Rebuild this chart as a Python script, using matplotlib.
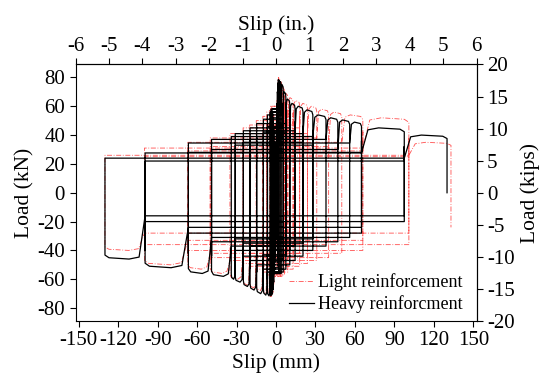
import numpy as np
import matplotlib
matplotlib.use('Agg')
import matplotlib.pyplot as plt

plt.rcParams['font.family'] = ['Liberation Serif', 'DejaVu Serif']
plt.rcParams['axes.unicode_minus'] = False

# cycle data (mm, kN), negative half first, then positive half
# heavy reinforcement
heavy_neg_amp = [-0.5, -1.0, -1.5, -2.0, -2.5, -3.0, -3.8, -4.6, -6.5, -6.5,
                 -9.6, -9.6, -14.7, -14.7, -19.7, -19.7, -24.8, -24.8, -31.0, -31.0,
                 -34.0, -49.0, -49.0, -66.6, -66.6, -99.5, -99.5, -130.0]
heavy_neg_peak = [-30, -45, -55, -62, -67, -70, -71, -71.5, -71.5, -60,
                  -71, -58, -70, -55, -67.5, -52, -65, -49, -62, -46,
                  -60, -58, -44, -56, -42, -52, -40, -46]
heavy_neg_ret = [25, 35, 45, 52, 56, 58, 58, 56, 54, 46,
                 51, 42, 48, 39, 45, 37, 43, 35, 41, 33,
                 39, 37, 30, 34.5, 28, 27.6, 22, 24]
heavy_pos_amp = [0.3, 0.6, 0.9, 1.2, 1.6, 2.0, 3.0, 4.0, 5.5, 5.5,
                 7.5, 7.5, 10.5, 10.5, 14.5, 14.5, 20.5, 20.5, 28.0, 28.0,
                 38.0, 47.0, 56.0, 65.0, 65.0, 97.5, 97.5, 130.0]
heavy_pos_peak = [35, 50, 62, 70, 76, 78.5, 78, 77, 75, 62,
                  70, 56, 65, 52, 62, 49, 60, 46, 57.5, 43,
                  54, 52, 50.5, 49, 36, 45, 32, 40]
heavy_pos_ret = [-20, -30, -40, -48, -52, -55, -56, -56, -55, -46,
                 -53, -43, -50, -40, -47, -37, -44, -35, -40, -32,
                 -37, -34, -31, -28, -24, -20, -16, 0]

# light reinforcement
light_neg_amp = [-0.5, -1.0, -1.5, -2.0, -2.6, -3.2, -4.0, -5.0, -7.0, -7.0,
                 -10.0, -10.0, -15.0, -15.0, -20.0, -20.0, -25.0, -25.0, -35.0, -50.0,
                 -50.0, -67.0, -67.0, -100.0, -100.0, -130.0]
light_neg_peak = [-32, -47, -57, -64, -69, -71, -72, -72, -71, -60,
                  -70, -58, -68, -56, -66, -54, -64, -52, -60, -56,
                  -46, -53, -44, -50, -38, -40]
light_neg_ret = [28, 38, 47, 54, 58, 60, 60, 58, 56, 47,
                 53, 44, 50, 41, 47, 39, 45, 37, 41, 38,
                 32, 35, 29, 31, 25, 26]
light_pos_amp = [0.3, 0.7, 1.0, 1.4, 1.8, 2.3, 3.2, 4.5, 6.5, 6.5,
                 9.0, 9.0, 13.0, 13.0, 18.0, 18.0, 24.0, 24.0, 31.0, 40.0,
                 50.0, 66.0, 66.0, 101.0, 101.0, 133.0]
light_pos_peak = [38, 52, 64, 72, 78, 80, 79, 77, 73, 62,
                  69, 58, 66, 55, 64, 53, 62, 51, 60, 58,
                  56, 54, 42, 52, 38, 35]
light_pos_ret = [-22, -33, -42, -50, -55, -57, -58, -58, -57, -48,
                 -55, -46, -53, -44, -51, -42, -49, -40, -47, -45,
                 -42, -40, -33, -36, -28, -24]

x_ticks_mm = [-150, -120, -90, -60, -30, 0, 30, 60, 90, 120, 150]
y_ticks_kn = [-80, -60, -40, -20, 0, 20, 40, 60, 80]
x_ticks_in = [-6, -5, -4, -3, -2, -1, 0, 1, 2, 3, 4, 5, 6]
y_ticks_kip = [-20, -15, -10, -5, 0, 5, 10, 15, 20]


def build_path(neg_amp, neg_peak, neg_ret, pos_amp, pos_peak, pos_ret):
    xs, ys = [0.0], [0.0]
    a_prev, b_prev, dn_prev = 0.0, 0.0, 0.0
    for k in range(len(neg_amp)):
        b, pn, up = neg_amp[k], neg_peak[k], neg_ret[k]
        a, pp, dn = pos_amp[k], pos_peak[k], pos_ret[k]
        # slide left, then the new slip zone down to the negative peak
        w = b_prev - b
        xs += [b_prev, b_prev - 0.15 * w, b_prev - 0.4 * w, b + 0.1 * w, b, b]
        ys += [dn_prev, pn * 0.97, pn, pn * 0.98, pn * 0.94, up]
        # slide right, then up to the positive peak
        w = a - a_prev
        xs += [a_prev, a_prev + 0.15 * w, a_prev + 0.4 * w, a - 0.1 * w, a, a]
        ys += [up, pp * 0.97, pp, pp * 0.98, pp * 0.94, dn]
        a_prev, b_prev, dn_prev = a, b, dn
    return np.array(xs), np.array(ys)


fig = plt.figure(figsize=(5.42, 3.81), dpi=100)
ax = fig.add_axes([75.5 / 542, 1 - 321 / 381, 401 / 542, 256.5 / 381])

lx, ly = build_path(light_neg_amp, light_neg_peak, light_neg_ret,
                    light_pos_amp, light_pos_peak, light_pos_ret)
hx, hy = build_path(heavy_neg_amp, heavy_neg_peak, heavy_neg_ret,
                    heavy_pos_amp, heavy_pos_peak, heavy_pos_ret)

ax.plot(lx, ly, color='#ff3030', lw=0.6, ls=(0, (6, 2, 1, 2)), alpha=0.85,
        label='Light reinforcement')
ax.plot(hx, hy, color='black', lw=0.9, label='Heavy reinforcment')

ax.set_xlim(-152.4, 152.4)
ax.set_ylim(-20 * 4.448, 20 * 4.448)
ax.set_xticks(x_ticks_mm)
ax.set_yticks(y_ticks_kn)
ax.tick_params(direction='out', length=4, width=0.8, labelsize=15)
ax.set_xlabel('Slip (mm)', fontsize=15.5, labelpad=2)
ax.set_ylabel('Load (kN)', fontsize=15.5, labelpad=2)

secx = ax.secondary_xaxis('top', functions=(lambda x: x / 25.4, lambda x: x * 25.4))
secx.set_xticks(x_ticks_in)
secx.tick_params(direction='out', length=4, width=0.8, labelsize=15, pad=2)
secx.set_xlabel('Slip (in.)', fontsize=15.5, labelpad=5)

secy = ax.secondary_yaxis('right', functions=(lambda y: y / 4.448, lambda y: y * 4.448))
secy.set_yticks(y_ticks_kip)
secy.tick_params(direction='out', length=4, width=0.8, labelsize=15)
secy.set_ylabel('Load (kips)', fontsize=15.5, labelpad=4)

ax.legend(loc='lower right', bbox_to_anchor=(0.985, 0.0), frameon=False,
          fontsize=13, handlelength=1.4, handletextpad=0.2, labelspacing=0.2,
          borderaxespad=0.05)

fig.savefig('out.png', dpi=100)
